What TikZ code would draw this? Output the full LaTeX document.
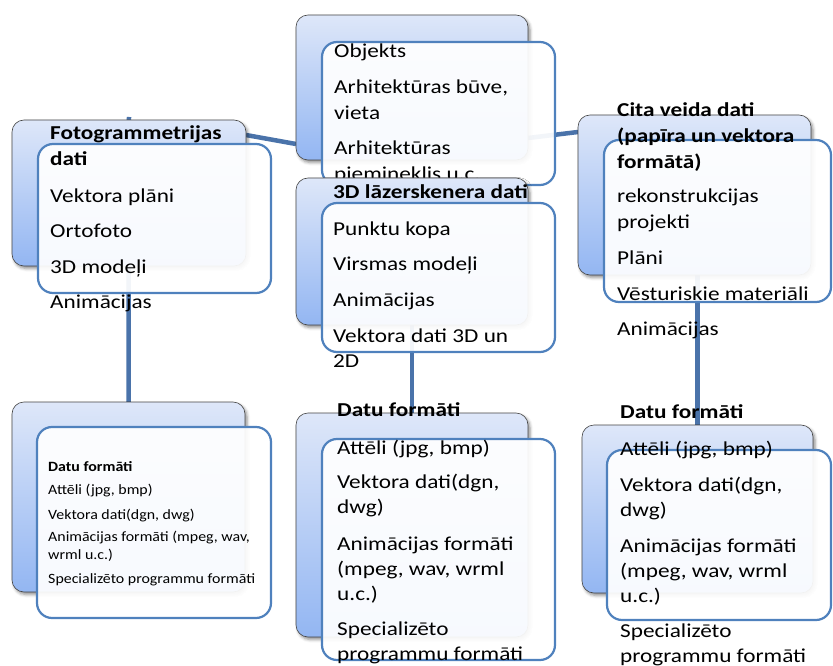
\documentclass[tikz,border=0pt]{standalone}
\usepackage{fontspec}
\setmainfont{Carlito}[FakeStretch=1.18]
\newfontfamily\smallfam{Carlito}[FakeStretch=1.12]
\usetikzlibrary{shadows.blur}
\definecolor{bTop}{HTML}{DEE7F9}
\definecolor{bBot}{HTML}{93B6F2}
\definecolor{frontBlue}{HTML}{4F81BD}
\definecolor{connBlue}{HTML}{4A73AA}
\definecolor{backLine}{HTML}{454545}
\pgfdeclarelayer{bg}
\pgfsetlayers{bg,main}
\tikzset{
  backbox/.style={draw=backLine, line width=0.6pt, rounded corners=12pt,
    top color=bTop, bottom color=bBot, inner sep=0pt, outer sep=0pt, anchor=north west,
    blur shadow={shadow xshift=2pt, shadow yshift=-2.5pt, shadow blur radius=3pt, shadow opacity=45}},
  frontbox/.style={draw=frontBlue, line width=2.2pt, rounded corners=15pt,
    fill=white, fill opacity=0.93, inner sep=0pt, outer sep=0pt, anchor=north west},
  big/.style={font=\fontsize{19.7}{24}\selectfont, anchor=base west, inner sep=0pt, text=black},
  bigb/.style={big, font=\fontsize{19.7}{24}\selectfont\bfseries},
  sml/.style={font=\smallfam\fontsize{14.2}{17}\selectfont, anchor=base west, inner sep=0pt, text=black},
  smlb/.style={sml, font=\smallfam\fontsize{14.2}{17}\selectfont\bfseries},
  conn/.style={draw=connBlue, line width=4.5pt}
}
\begin{document}
\begin{tikzpicture}[x=1pt, y=-1pt]
\useasboundingbox (0,0) rectangle (833,666);

% ---- Group A (top left)
\node[backbox, minimum width=234pt, minimum height=146pt] (bA) at (12,120) {};
\node[frontbox, minimum width=233pt, minimum height=149pt] (fA) at (38,144) {};
\node[bigb] (A1) at (50,140) {Fotogrammetrijas};
\node[bigb] (A2) at (50,166) {dati};
\node[big] (A3) at (50,202) {Vektora plāni};
\node[big] (A4) at (50,237) {Ortofoto};
\node[big] (A5) at (50,273) {3D modeļi};
\node[big] (A6) at (50,308) {Animācijas};

% ---- Group B (top centre)
\node[backbox, minimum width=232pt, minimum height=145pt] (bB) at (296,15) {};
\node[frontbox, minimum width=233pt, minimum height=143pt] (fB) at (322,42) {};
\node[big] (B1) at (334,58) {Objekts};
\node[big] (B2) at (334,94) {Arhitektūras būve,};
\node[big] (B3) at (334,120) {vieta};
\node[big] (B4) at (334,155) {Arhitektūras};
\node[big] (B5) at (334,180) {piemineklis u.c.};

% ---- Group C (top right)
\node[backbox, minimum width=233pt, minimum height=160pt] (bC) at (578,115) {};
\node[frontbox, minimum width=227pt, minimum height=162pt] (fC) at (604,140) {};
\node[bigb] (C1) at (617,117) {Cita veida dati};
\node[bigb] (C2) at (617,143) {(papīra un vektora};
\node[bigb] (C3) at (617,168) {formātā)};
\node[big] (C4) at (617,203) {rekonstrukcijas};
\node[big] (C5) at (617,228) {projekti};
\node[big] (C6) at (617,264) {Plāni};
\node[big] (C7) at (617,300) {Vēsturiskie materiāli};
\node[big] (C8) at (617,335) {Animācijas};

% ---- Group D (middle centre)
\node[backbox, minimum width=232pt, minimum height=147pt] (bD) at (296,178) {};
\node[frontbox, minimum width=233pt, minimum height=149pt] (fD) at (322,203) {};
\node[bigb] (D1) at (333,198) {3D lāzerskenera dati};
\node[big] (D2) at (333,235) {Punktu kopa};
\node[big] (D3) at (333,270) {Virsmas modeļi};
\node[big] (D4) at (333,306) {Animācijas};
\node[big] (D5) at (333,342) {Vektora dati 3D un};
\node[big] (D6) at (333,367) {2D};

% ---- Group E (bottom left)
\node[backbox, minimum width=233pt, minimum height=190pt] (bE) at (12,402) {};
\node[frontbox, minimum width=234pt, minimum height=191pt] (fE) at (37,427) {};
\node[smlb] (E1) at (48,471) {Datu formāti};
\node[sml] (E2) at (48,494) {Attēli (jpg, bmp)};
\node[sml] (E3) at (48,519) {Vektora dati(dgn, dwg)};
\node[sml] (E4) at (48,541) {Animācijas formāti (mpeg, wav,};
\node[sml] (E5) at (48,559) {wrml u.c.)};
\node[sml] (E6) at (48,583) {Specializēto programmu formāti};

% ---- Group F (bottom centre)
\node[backbox, minimum width=232pt, minimum height=224pt] (bF) at (296,413) {};
\node[frontbox, minimum width=233pt, minimum height=221pt] (fF) at (322,439) {};
\node[bigb] (F1) at (337,416) {Datu formāti};
\node[big] (F2) at (337,454) {Attēli (jpg, bmp)};
\node[big] (F3) at (337,488) {Vektora dati(dgn,};
\node[big] (F4) at (337,513) {dwg)};
\node[big] (F5) at (337,550) {Animācijas formāti};
\node[big] (F6) at (337,575) {(mpeg, wav, wrml};
\node[big] (F7) at (337,600) {u.c.)};
\node[big] (F8) at (337,635) {Specializēto};
\node[big] (F9) at (337,660) {programmu formāti};

% ---- Group G (bottom right)
\node[backbox, minimum width=231pt, minimum height=168pt] (bG) at (582,425) {};
\node[frontbox, minimum width=224pt, minimum height=170pt] (fG) at (607,450) {};
\node[bigb] (G1) at (620,418) {Datu formāti};
\node[big] (G2) at (620,455) {Attēli (jpg, bmp)};
\node[big] (G3) at (620,491) {Vektora dati(dgn,};
\node[big] (G4) at (620,516) {dwg)};
\node[big] (G5) at (620,552) {Animācijas formāti};
\node[big] (G6) at (620,577) {(mpeg, wav, wrml};
\node[big] (G7) at (620,602) {u.c.)};
\node[big] (G8) at (620,637) {Specializēto};
\node[big] (G9) at (620,662) {programmu formāti};

% ---- Connectors (behind)
\begin{pgfonlayer}{bg}
\draw[conn] ([yshift=-15pt]bA.north east) -- ([yshift=16pt]bB.south west);
\draw[conn] ([yshift=22pt]bB.south east) -- ([yshift=-17pt]bC.north west);
\draw[conn] ([yshift=3pt]bA.north) -- (bE.north);
\draw[conn] (bD.south) -- (bF.north);
\draw[conn] (bG.north |- bC.south) -- (bG.north);
\end{pgfonlayer}
\end{tikzpicture}
\end{document}
